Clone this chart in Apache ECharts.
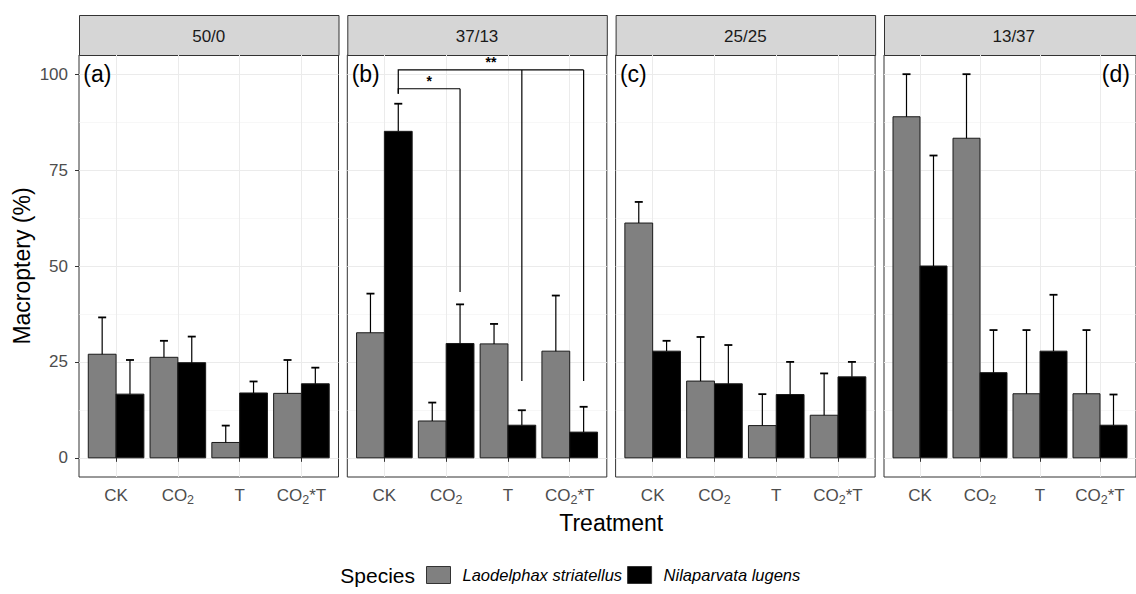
<!DOCTYPE html>
<html>
<head>
<meta charset="utf-8">
<script src="https://cdn.jsdelivr.net/npm/echarts@6/dist/echarts.min.js"></script>
<style>
html,body{margin:0;padding:0;background:#ffffff;}
#chart{width:1136px;height:594px;}
</style>
</head>
<body>
<div id="chart"></div>
<script>
// ---------------- data ----------------
const categories = ['CK', 'CO₂', 'T', 'CO₂*T'];
const panelTitles = ['50/0', '37/13', '25/25', '13/37'];
const panelTags = ['(a)', '(b)', '(c)', '(d)'];
const speciesNames = ['Laodelphax striatellus', 'Nilaparvata lugens'];
const yTicks = [0, 25, 50, 75, 100];
const yMinorTicks = [12.5, 37.5, 62.5, 87.5];

// Laodelphax striatellus: mean and upper error-bar end, per panel, per treatment
const lsMean  = [[27.0, 26.2, 4.0, 16.8], [32.6, 9.6, 29.7, 27.8], [61.2, 20.0, 8.4, 11.1], [88.9, 83.3, 16.7, 16.7]];
const lsUpper = [[36.6, 30.5, 8.4, 25.5], [42.8, 14.4, 34.9, 42.3], [66.7, 31.5, 16.6, 22.0], [100, 100, 33.3, 33.3]];
// Nilaparvata lugens
const nlMean  = [[16.6, 24.8, 16.9, 19.3], [85.1, 29.8, 8.5, 6.7], [27.8, 19.3, 16.5, 21.1], [50.0, 22.2, 27.8, 8.5]];
const nlUpper = [[25.5, 31.6, 19.9, 23.5], [92.3, 40.0, 12.4, 13.3], [30.5, 29.4, 25.0, 25.0], [78.8, 33.3, 42.5, 16.5]];

// significance brackets in panel (b) (compare CK of N. lugens with other treatments)
const bracketLabels = ['*', '**'];
const bracketFrom = [1, 1];                 // treatment index (1-based)
const bracketTo = [[2], [3, 4]];
const bracketHeight = [96.2, 101.1];
const bracketStartLow = [94.9, 94.9];
const bracketEndLow = [[43.2], [20.0, 20.0]];

// panel tag positions (data units)
const tagX = [0.47, 0.47, 0.47, 4.03];
const tagY = [100, 100, 100, 100];

// ---------------- layout / style ----------------
const FONT = '"Liberation Sans", Arial, Helvetica, sans-serif';
const gridLeft = [79, 347.3, 615.6, 884];
const gridWidth = 259.5;
const gridTop = 55;
const gridHeight = 422;
const stripTop = 15;
const speciesColors = ['#808080', '#000000'];
const barHalf = 0.45;

function richLabel(txt) {
  // split on subscript two and mark parts for rich text
  return txt.split('₂').map(p => p ? '{n|' + p + '}' : '').join('{s|2}');
}

const chart = echarts.init(document.getElementById('chart'), null, {renderer: 'svg'});

const grids = [], xAxes = [], yAxes = [], series = [], graphics = [];

for (let i = 0; i < 4; i++) {
  grids.push({
    left: gridLeft[i], top: gridTop, width: gridWidth, height: gridHeight,
    show: true, borderColor: '#333333', borderWidth: 1, backgroundColor: 'transparent'
  });
  xAxes.push({
    type: 'value', gridIndex: i, min: 0.4, max: 4.6,
    axisLine: {show: false},
    axisTick: {show: true, customValues: [1, 2, 3, 4], length: 4, lineStyle: {color: '#333333'}},
    axisLabel: {
      show: true, customValues: [1, 2, 3, 4], margin: 9,
      formatter: v => richLabel(categories[Math.round(v) - 1]),
      rich: {
        n: {color: '#4D4D4D', fontSize: 17, fontFamily: FONT, lineHeight: 18},
        s: {color: '#4D4D4D', fontSize: 12.5, fontFamily: FONT, lineHeight: 12, padding: [9, 0, 0, 0]}
      }
    },
    splitLine: {show: true, lineStyle: {color: '#EBEBEB', width: 1}}
  });
  yAxes.push({
    type: 'value', gridIndex: i, min: -5, max: 105,
    axisLine: {show: false},
    axisTick: {show: i === 0, customValues: yTicks, length: 4, lineStyle: {color: '#333333'}},
    axisLabel: {show: i === 0, customValues: yTicks, margin: 11, color: '#4D4D4D', fontSize: 17, fontFamily: FONT},
    splitLine: {show: true, lineStyle: {color: '#EBEBEB', width: 1}}
  });
  yAxes.push({
    type: 'value', gridIndex: i, min: -5, max: 105, position: 'left',
    axisLine: {show: false},
    axisTick: {show: false, customValues: yMinorTicks},
    axisLabel: {show: false, customValues: yMinorTicks},
    splitLine: {show: true, lineStyle: {color: '#F1F1F1', width: 0.6}}
  });

  const means = [lsMean[i], nlMean[i]];
  const uppers = [lsUpper[i], nlUpper[i]];
  for (let s = 0; s < 2; s++) {
    const off = s === 0 ? -barHalf : 0;
    series.push({
      type: 'custom', name: speciesNames[s],
      xAxisIndex: i, yAxisIndex: 2 * i,
      itemStyle: {color: speciesColors[s], borderColor: '#1A1A1A', borderWidth: 1},
      data: categories.map((c, j) => [j + 1, means[s][j], uppers[s][j]]),
      renderItem: function (params, api) {
        const x = api.value(0), m = api.value(1), u = api.value(2);
        const p0 = api.coord([x + off, 0]);
        const p1 = api.coord([x + off + barHalf, m]);
        const c0 = api.coord([x + off + barHalf / 2, m]);
        const c1 = api.coord([x + off + barHalf / 2, u]);
        return {
          type: 'group',
          children: [
            {type: 'rect', shape: {x: p0[0], y: p1[1], width: p1[0] - p0[0], height: p0[1] - p1[1]},
             style: {fill: speciesColors[s], stroke: '#1A1A1A', lineWidth: 1}},
            {type: 'line', shape: {x1: c0[0], y1: c0[1], x2: c1[0], y2: c1[1]},
             style: {stroke: '#000', lineWidth: 1.2}},
            {type: 'line', shape: {x1: c1[0] - 4, y1: c1[1], x2: c1[0] + 4, y2: c1[1]},
             style: {stroke: '#000', lineWidth: 1.8}}
          ]
        };
      }
    });
  }

  // panel tag
  series.push({
    type: 'custom', xAxisIndex: i, yAxisIndex: 2 * i, silent: true,
    data: [[tagX[i], tagY[i]]],
    renderItem: function (params, api) {
      const p = api.coord([api.value(0), api.value(1)]);
      return {type: 'text', x: p[0], y: p[1],
        style: {text: panelTags[i], fill: '#000', font: '23px ' + FONT, textAlign: 'left', textVerticalAlign: 'middle'}};
    }
  });

  // strip
  graphics.push({
    type: 'rect', left: gridLeft[i], top: stripTop,
    shape: {width: gridWidth, height: gridTop - stripTop},
    style: {fill: '#D6D6D6', stroke: '#333333', lineWidth: 1}
  });
  graphics.push({
    type: 'text', x: gridLeft[i] + gridWidth / 2, y: (stripTop + gridTop) / 2 + 1,
    style: {text: panelTitles[i], fill: '#1A1A1A', font: '17px ' + FONT, textAlign: 'center', textVerticalAlign: 'middle'}
  });
}

// significance brackets (panel b)
series.push({
  type: 'custom', xAxisIndex: 1, yAxisIndex: 2, silent: true,
  data: bracketLabels.map((l, k) => [k]),
  renderItem: function (params, api) {
    const k = api.value(0);
    const xs = bracketFrom[k] + 0.225;
    const h = bracketHeight[k];
    const ends = bracketTo[k];
    const lastX = ends[ends.length - 1] + 0.225;
    const children = [];
    const a = api.coord([xs, bracketStartLow[k]]);
    const b = api.coord([xs, h]);
    const c = api.coord([lastX, h]);
    children.push({type: 'polyline', shape: {points: [a, b, c]}, style: {stroke: '#000', lineWidth: 1.2, fill: null}});
    ends.forEach((e, n) => {
      const t = api.coord([e + 0.225, h]);
      const d = api.coord([e + 0.225, bracketEndLow[k][n]]);
      children.push({type: 'line', shape: {x1: t[0], y1: t[1], x2: d[0], y2: d[1]}, style: {stroke: '#000', lineWidth: 1.2}});
    });
    const mid = api.coord([(xs + lastX) / 2, h]);
    children.push({type: 'text', x: mid[0], y: mid[1] - 1,
      style: {text: bracketLabels[k], fill: '#000', font: 'bold 14px ' + FONT, textAlign: 'center', textVerticalAlign: 'bottom'}});
    return {type: 'group', children: children};
  }
});

// axis titles & legend title
graphics.push({
  type: 'text', x: gridLeft[0] + (gridLeft[3] + gridWidth - gridLeft[0]) / 2, y: 523,
  style: {text: 'Treatment', fill: '#000', font: '23px ' + FONT, textAlign: 'center', textVerticalAlign: 'middle'}
});
graphics.push({
  type: 'text', x: 22, y: 266, rotation: Math.PI / 2,
  style: {text: 'Macroptery (%)', fill: '#000', font: '23px ' + FONT, textAlign: 'center', textVerticalAlign: 'middle'}
});
graphics.push({
  type: 'text', x: 415, y: 575,
  style: {text: 'Species', fill: '#000', font: '21px ' + FONT, textAlign: 'right', textVerticalAlign: 'middle'}
});

chart.setOption({
  animation: false,
  backgroundColor: '#ffffff',
  textStyle: {fontFamily: FONT},
  grid: grids,
  xAxis: xAxes,
  yAxis: yAxes,
  legend: {
    data: speciesNames, left: 426, top: 566, orient: 'horizontal', padding: 0,
    icon: 'rect', itemWidth: 24, itemHeight: 17, itemGap: 5,
    itemStyle: {borderColor: '#333333', borderWidth: 1},
    textStyle: {fontSize: 16.5, fontStyle: 'italic', color: '#000', fontFamily: FONT, padding: [0, 0, 0, 7]}
  },
  series: series,
  graphic: graphics
});
</script>
</body>
</html>
